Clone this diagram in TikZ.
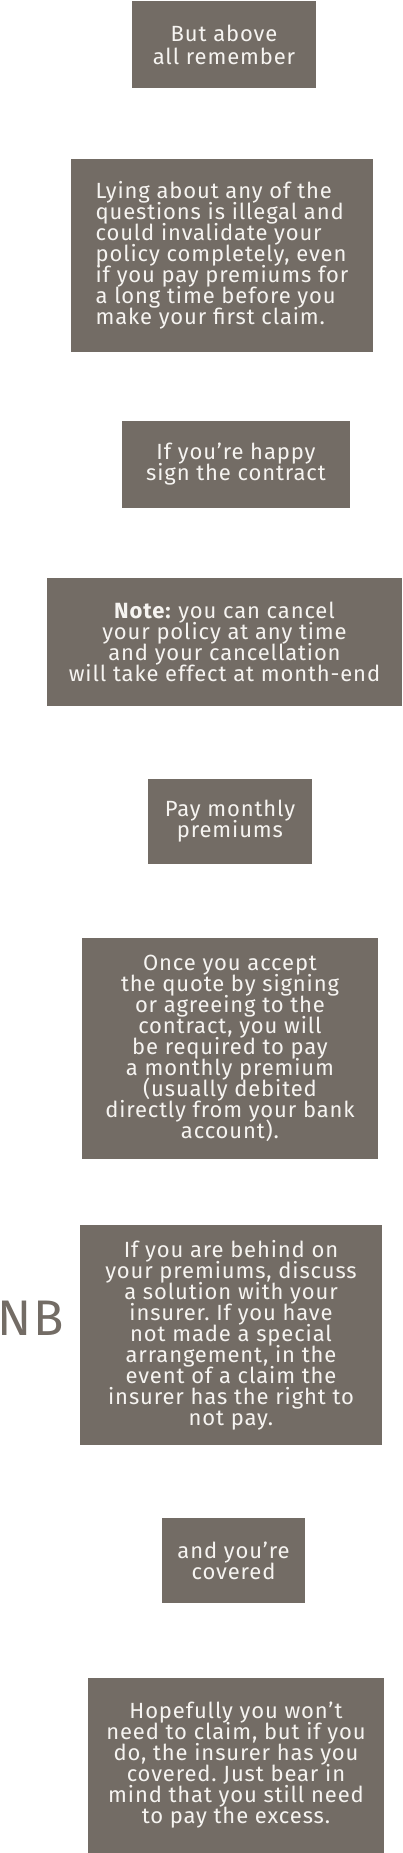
\documentclass[tikz,border=0pt]{standalone}
\usepackage{fontspec}
\setmainfont[LetterSpace=4]{Fira Sans}
\frenchspacing
\definecolor{boxgrey}{RGB}{115,108,101}
\definecolor{boxtext}{RGB}{246,244,241}
\newcommand\mytightlines{\lineskiplimit=-30pt\relax\lineskip=0pt\relax}
\begin{document}
\begin{tikzpicture}[x=1pt,y=-1pt,
  box/.style={fill=boxgrey, text=boxtext, font=\fontsize{22}{21}\selectfont\frenchspacing\mytightlines, align=center, inner sep=0pt, anchor=center},
  nbtext/.style={text=boxgrey, font=\fontsize{50}{50}\selectfont, inner sep=0pt, anchor=west}]
\useasboundingbox (0,0) rectangle (402,1853);
\node[box, font=\fontsize{22}{23}\selectfont\frenchspacing\mytightlines, minimum width=184pt, minimum height=87pt] (b1) at (224,44.5) {But above\\all remember};
\node[box, align=left, minimum width=302pt, minimum height=193pt] (b2) at (222,255.5) {Lying about any of the\\questions is illegal and\\could invalidate your\\policy completely, even\\if you pay premiums for\\a long time before you\\make your first claim.};
\node[box, minimum width=228pt, minimum height=87pt] (b3) at (236,464.5) {If you’re happy\\sign the contract};
\node[box, minimum width=355pt, minimum height=128pt] (b4) at (224.5,642) {\textbf{Note:} you can cancel\\your policy at any time\\and your cancellation\\will take effect at month-end};
\node[box, minimum width=164pt, minimum height=85pt] (b5) at (230,821.5) {Pay monthly\\premiums};
\node[box, minimum width=296pt, minimum height=221pt] (b6) at (230,1048.5) {Once you accept\\the quote by signing\\or agreeing to the\\contract, you will\\be required to pay\\a monthly premium\\(usually debited\\directly from your bank\\account).};
\node[box, minimum width=302pt, minimum height=220pt] (b7) at (231,1335) {If you are behind on\\your premiums, discuss\\a solution with your\\insurer. If you have\\not made a special\\arrangement, in the\\event of a claim the\\insurer has the right to\\not pay.};
\node[nbtext] (nb) at (-3,1318) {NB};
\node[box, minimum width=143pt, minimum height=85pt] (b8) at (233.5,1560.5) {and you’re\\covered};
\node[box, minimum width=296pt, minimum height=175pt] (b9) at (236,1765.5) {Hopefully you won’t\\need to claim, but if you\\do, the insurer has you\\covered. Just bear in\\mind that you still need\\to pay the excess.};
\end{tikzpicture}
\end{document}
